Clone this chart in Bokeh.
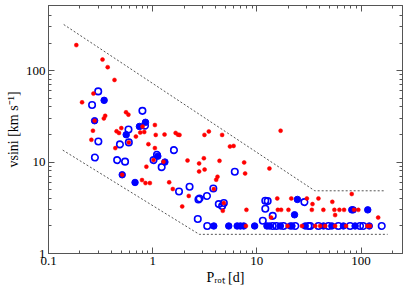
from bokeh.plotting import figure
from bokeh.models import LogAxis, FixedTicker, CustomJSTickFormatter, CustomLabelingPolicy, Range1d
from bokeh.embed import file_html
from bokeh.resources import INLINE

# ---- data (P_rot [d], vsini [km/s]) ----
red_p = [0.185, 0.33, 0.37, 0.43, 0.27, 0.21, 0.555, 0.585, 0.35, 0.34, 0.267, 0.45, 0.475, 0.5,
         0.69, 0.76, 0.83, 1.05, 1.07, 1.3, 1.66, 1.75, 1.81, 3.14, 3.46, 4.64, 5.52, 5.98, 16.9,
         0.438, 0.91, 1.05, 0.258, 0.59, 0.87, 1.27, 0.51, 0.79, 0.853, 0.94, 1.44, 1.56, 2.16,
         2.22, 1.92, 2.79, 3.10, 2.79, 3.15, 4.38, 7.55, 7.71, 13.2, 4.19, 4.07, 3.86, 4.82, 4.71,
         7.94, 15.7, 15.9, 13.7, 7.85, 21.4, 30.2, 39.0, 81.4, 53.0, 34.2, 17.1, 20.1, 33.7, 43.5,
         55.5, 62.0, 68.7, 85.7, 94.2, 56.4, 146.0, 1.02, 0.80, 0.277,
         19.7, 27.1, 36.3, 40.5, 45.3, 56.4, 71.8, 115.0, 122.0]
red_v = [190, 132, 109, 79, 56, 45, 35, 33, 32, 30, 22, 21.7, 20.8, 23.5,
         19, 21, 21.3, 25.4, 19.8, 20, 20.8, 19.9, 19.8, 19.8, 21.6, 19.8, 14.8, 15.0, 22,
         14.2, 15.7, 14.2, 17.5, 16.4, 8.9, 10.1, 7.26, 6.35, 5.89, 5.89, 6.0, 5.07, 10.4,
         4.26, 3.27, 9.66, 11.0, 7.89, 8.28, 10.3, 9.9, 7.5, 8.5, 6.9, 6.4, 5.06, 3.56, 2.93,
         3, 4, 3, 2.47, 2, 4, 4, 4, 4.47, 3.67, 3.47, 3, 3, 3, 3,
         3, 3, 3, 3, 3, 2.63, 2.47, 10.5, 24.4, 28.3,
         2, 2, 2, 2, 2, 2, 2, 2, 2]

bfill_p = [0.342, 0.277, 0.746, 0.853, 0.557, 0.51, 0.677, 1.31, 1.12, 24.5, 23.0, 81.5, 84.0, 116.0,
           3.86, 5.37, 6.47, 6.95, 7.48, 9.52, 12.5, 13.2, 16.8, 20.9, 21.7, 29.1, 43.6, 52.5,
           67.7, 87.7, 120.0]
bfill_v = [47.3, 28.3, 24.5, 27.2, 19.9, 7.26, 5.98, 10.0, 11.6, 3.9, 2.65, 3, 3, 3,
           2, 2, 2, 2, 2, 2, 2, 2, 2, 2, 2, 2, 2, 2,
           2, 2, 2]

bopen_p = [0.30, 0.262, 0.797, 0.586, 0.844, 0.301, 0.485, 0.59, 1.60, 0.279, 0.456, 0.543, 1.10,
           1.02, 1.22, 1.79, 2.26, 2.75, 2.82, 3.32, 3.82, 4.31, 4.64, 4.82, 2.71, 3.34, 6.14,
           12.05, 12.7, 12.05, 14.2, 11.4, 28.6,
           14.2, 15.4, 18.0, 23.4, 31.3, 32.5, 39.0, 48.7, 60.6, 78.5, 97.8, 105.0, 158.0]
bopen_v = [59.2, 42.1, 36.3, 22.7, 25, 16.8, 15.6, 16.4, 13.5, 11.2, 10.5, 10.1, 12.0,
           10.5, 8.8, 4.76, 5.36, 3.9, 4.0, 4.26, 5.13, 3.47, 3.3, 3.56, 2.38, 2, 7.83,
           3.77, 3.74, 3.08, 2.58, 2.28, 3.65,
           2, 2, 2, 2, 2, 2, 2, 2, 2, 2, 2, 2, 2]

upper_p = [0.14, 36.0, 172.0]
upper_v = [319, 4.85, 4.85]
lower_p = [0.137, 2.8, 180.0]
lower_v = [13.5, 1.62, 1.62]

x_ticks = [0.1, 1, 10, 100]
x_minor = [0.2, 0.3, 0.4, 0.5, 0.6, 0.7, 0.8, 0.9, 2, 3, 4, 5, 6, 7, 8, 9,
           20, 30, 40, 50, 60, 70, 80, 90, 200]
y_ticks = [1, 10, 100]
y_minor = [2, 3, 4, 5, 6, 7, 8, 9, 20, 30, 40, 50, 60, 70, 80, 90, 200, 300, 400]

x_title = "P\u1d63\u2092\u209c [d]"
y_title = "vsini [km s\u207b\u00b9]"

GRAY = "#555555"
SERIF = "Liberation Serif"

p = figure(width=407, height=290, x_axis_type="log", y_axis_type="log",
           x_range=Range1d(0.1, 250), y_range=Range1d(1, 515),
           output_backend="svg", toolbar_location=None,
           min_border_left=48, min_border_right=5, min_border_top=5, min_border_bottom=37)
p.grid.visible = False
p.outline_line_color = GRAY
p.background_fill_color = "white"

fmt = CustomJSTickFormatter(code="return tick.toString();")
no_labels = CustomLabelingPolicy(code="for (let i = 0; i < indices.size; i++) { indices.unset(i) } return indices;")

def style_axis(ax, ticks, minor, show_labels):
    ax.ticker = FixedTicker(ticks=ticks, minor_ticks=minor)
    ax.formatter = fmt
    ax.axis_line_color = GRAY
    ax.major_tick_line_color = GRAY
    ax.minor_tick_line_color = GRAY
    ax.major_tick_in = 6
    ax.major_tick_out = 0
    ax.minor_tick_in = 3
    ax.minor_tick_out = 0
    ax.major_label_text_font = SERIF
    ax.major_label_text_color = "black"
    ax.axis_label_text_font = SERIF
    ax.axis_label_text_font_size = "14px"
    ax.axis_label_text_font_style = "normal"
    ax.axis_label_text_color = "black"
    if show_labels:
        ax.major_label_text_font_size = "13px"
        ax.major_label_standoff = 3
        ax.axis_label_standoff = 2
    else:
        ax.major_label_policy = no_labels
        ax.major_label_text_font_size = "0px"
        ax.major_label_standoff = 0

style_axis(p.xaxis[0], x_ticks, x_minor, True)
style_axis(p.yaxis[0], y_ticks, y_minor, True)
p.xaxis[0].axis_label = x_title
p.yaxis[0].axis_label = y_title

top = LogAxis()
style_axis(top, x_ticks, x_minor, False)
p.add_layout(top, "above")
right = LogAxis()
style_axis(right, y_ticks, y_minor, False)
p.add_layout(right, "right")

# boundary lines
p.line(upper_p, upper_v, line_color=GRAY, line_dash="2 2", line_width=1)
p.line(lower_p, lower_v, line_color=GRAY, line_dash="2 2", line_width=1)

# points
p.scatter(bopen_p, bopen_v, size=6.5, fill_color=None, line_color="#0000ff", line_width=1.6)
p.scatter(bfill_p, bfill_v, size=6.5, fill_color="#0000ff", line_color="#0000ff")
p.scatter(red_p, red_v, size=4, fill_color="#ff0000", line_color="#ff0000", line_width=0.5)

open("out.html", "w").write(file_html(p, INLINE))
